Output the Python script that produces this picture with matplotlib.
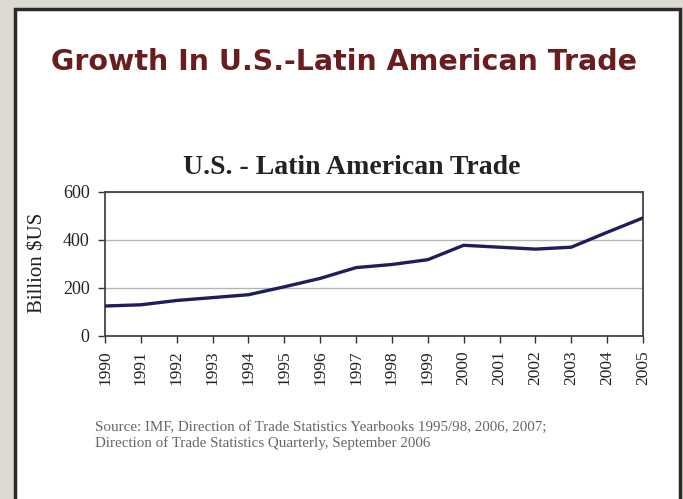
import matplotlib
matplotlib.use("Agg")
import matplotlib.pyplot as plt
from matplotlib.patches import Rectangle

years = [str(y) for y in range(1990, 2006)]
trade = [125, 130, 148, 160, 172, 205, 240, 285, 298, 318, 378, 370, 362, 370, 432, 492]
y_ticks = [0, 200, 400, 600]

W, H = 683, 499
fig = plt.figure(figsize=(W / 100, H / 100), dpi=100)
fig.patch.set_facecolor("#dcdad3")

# white slide panel with dark frame
panel = Rectangle((14.5 / W, -0.02), (680 - 14.5) / W, 1 - 9 / H + 0.02,
                  transform=fig.transFigure, facecolor="white",
                  edgecolor="#2a2a2a", linewidth=2.5, zorder=-5)
fig.patches.append(panel)

fig.text(344 / W, 1 - 62 / H, "Growth In U.S.-Latin American Trade",
         ha="center", va="center", fontsize=20.5, fontweight="bold",
         family="DejaVu Sans", color="#6b1c1c")

left, right = 105 / W, 643 / W
bottom, top = 1 - 336 / H, 1 - 192 / H
ax = fig.add_axes([left, bottom, right - left, top - bottom])
ax.set_zorder(2)
ax.set_facecolor("white")

x = list(range(len(years)))
ax.plot(x, trade, color="#1e1e5c", linewidth=2.4, solid_capstyle="round", zorder=3)

ax.set_xlim(0, len(years) - 1)
ax.set_ylim(0, 600)
ax.set_yticks(y_ticks)
ax.set_yticklabels([str(v) for v in y_ticks], family="Liberation Serif",
                   fontsize=13, color="#222222")
ax.set_xticks(x)
ax.set_xticklabels(years, rotation=90, family="Liberation Serif",
                   fontsize=12.5, color="#222222")
ax.tick_params(axis="both", direction="out", length=5, width=1, color="#333333")
ax.tick_params(axis="y", pad=6)
ax.tick_params(axis="x", pad=5)
ax.yaxis.grid(True, color="#b5b5b5", linewidth=1)
ax.set_axisbelow(True)
for s in ax.spines.values():
    s.set_color("#444444")
    s.set_linewidth(1.3)

ax.set_ylabel("Billion $US", family="Liberation Serif", fontsize=15,
              color="#222222")
ax.yaxis.set_label_coords((47 - 105) / (643 - 105), 0.51)

fig.text(352 / W, 1 - 168 / H, "U.S. - Latin American Trade",
         ha="center", va="center", family="Liberation Serif",
         fontsize=20, fontweight="bold", color="#222222")

fig.text(95 / W, 1 - 427 / H,
         "Source: IMF, Direction of Trade Statistics Yearbooks 1995/98, 2006, 2007;",
         ha="left", va="center", fontsize=10.8, family="Liberation Serif", color="#666666")
fig.text(95 / W, 1 - 443 / H,
         "Direction of Trade Statistics Quarterly, September 2006",
         ha="left", va="center", fontsize=10.8, family="Liberation Serif", color="#666666")

fig.savefig("out.png", dpi=100, facecolor=fig.get_facecolor())
